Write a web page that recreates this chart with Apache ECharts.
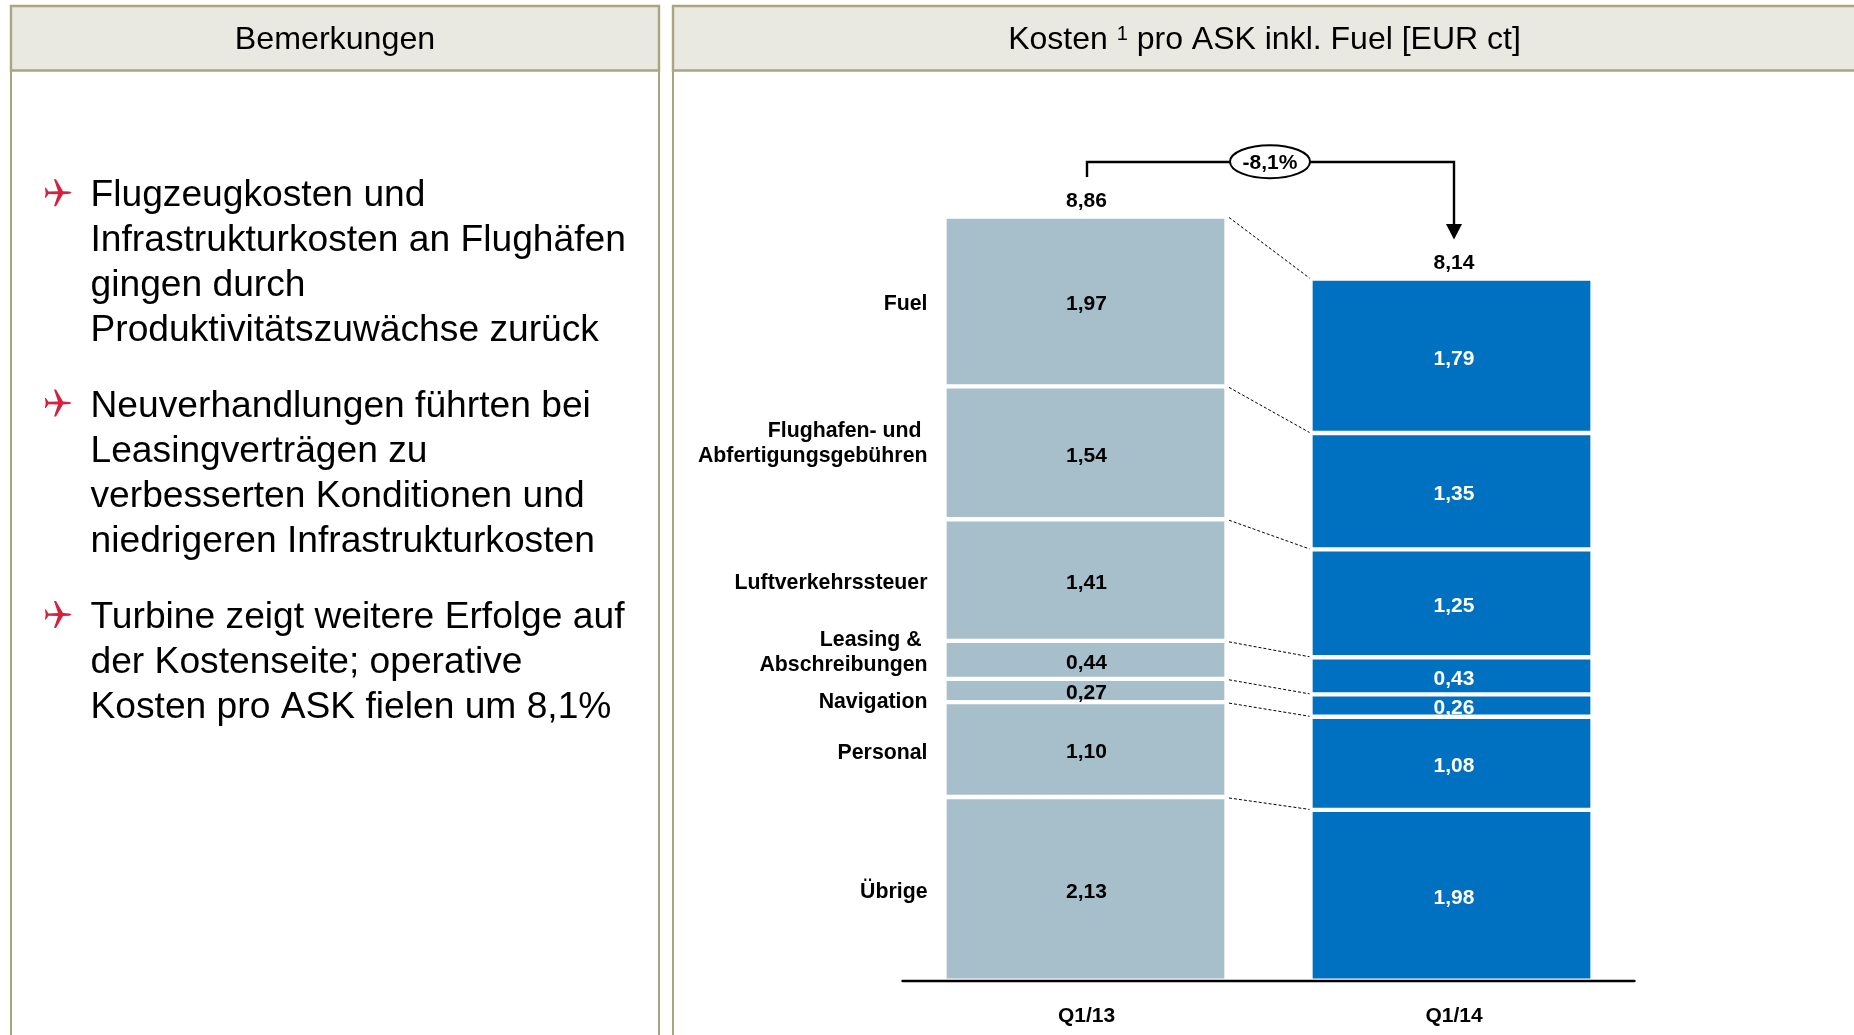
<!DOCTYPE html>
<html><head><meta charset="utf-8">
<style>html,body{margin:0;padding:0;background:#fff}#c{width:1854px;height:1035px}</style>
<script src="https://cdn.jsdelivr.net/npm/echarts@6/dist/echarts.min.js"></script>
</head><body><div id="c"></div>
<script>
const periods = ['Q1/13', 'Q1/14'];
const uebrige = [2.13, 1.98];
const personal = [1.10, 1.08];
const navigation = [0.27, 0.26];
const leasing = [0.44, 0.43];
const luftverkehr = [1.41, 1.25];
const flughafen = [1.54, 1.35];
const fuel = [1.97, 1.79];
const totals = [8.86, 8.14];
const stackOrder = [uebrige, personal, navigation, leasing, luftverkehr, flughafen, fuel];
const segmentNames = ['Fuel', 'Flughafen- und\u00a0\nAbfertigungsgebühren', 'Luftverkehrssteuer', 'Leasing &\u00a0\nAbschreibungen', 'Navigation', 'Personal', 'Übrige'];
const changeLabel = '-8,1%';
const panelTitleLeft = 'Bemerkungen';
const remarks = [
  ['Flugzeugkosten und', 'Infrastrukturkosten an Flughäfen', 'gingen durch', 'Produktivitätszuwächse zurück'],
  ['Neuverhandlungen führten bei', 'Leasingverträgen zu', 'verbesserten Konditionen und', 'niedrigeren Infrastrukturkosten'],
  ['Turbine zeigt weitere Erfolge auf', 'der Kostenseite; operative', 'Kosten pro ASK fielen um 8,1%']
];

// layout (separate from the data)
const nameY = [304, 443.5, 583, 653, 702, 753, 892];
const remarkFirstY = [196.2, 406.5, 618.1];
const linePitch = 45;
const FONT = '"Liberation Sans", Arial, sans-serif';
const BORDER = '#a8a67e', HEAD = '#e9e9e1';
const fmt = v => v.toFixed(2).replace('.', ',');
const barColors = ['#a7bfca', '#0070c0'];
const labelColors = ['#000', '#fff'];
const labelDx = [1, 2.5];

const barSeries = stackOrder.map(vals => ({
  type: 'bar', stack: 'k', barWidth: 282, animation: false, silent: true,
  data: vals.map((v, i) => ({
    value: v,
    itemStyle: { color: barColors[i], borderColor: '#fff', borderWidth: 2.15 },
    label: { show: true, position: 'inside', offset: [labelDx[i], 3], color: labelColors[i],
      fontFamily: FONT, fontSize: 21, fontWeight: 'bold', formatter: () => fmt(v) }
  }))
}));

// cumulative stack tops, used by connectors
const cumTops = [0, 1].map(i => { let s = 0; return stackOrder.map(a => (s += a[i])); });
const connectorData = stackOrder.map((_, k) => [cumTops[0][k], cumTops[1][k]]);

const connectors = {
  type: 'custom', silent: true, animation: false, coordinateSystem: 'cartesian2d', z: 5,
  data: connectorData,
  encode: { x: [], y: [0, 1] },
  renderItem(params, api) {
    const a = api.coord([0, api.value(0)]), b = api.coord([1, api.value(1)]);
    return { type: 'line',
      shape: { x1: a[0] + 143.5, y1: a[1] + 1, x2: b[0] - 142, y2: b[1] - 0.5 },
      style: { stroke: '#000', lineWidth: 1, lineDash: [3, 2], fill: null } };
  }
};

const totalSeries = {
  type: 'scatter', symbol: 'circle', symbolSize: 1, animation: false, silent: true, z: 6,
  itemStyle: { color: 'transparent', opacity: 1 },
  label: { show: true, position: 'top', distance: 4, color: '#000',
    fontFamily: FONT, fontSize: 21, fontWeight: 'bold', formatter: p => fmt(p.value[1]) },
  data: totals.map((v, i) => ({ value: [i, v], label: { offset: [labelDx[i], 0] } }))
};

const g = [];
function panel(x, w) {
  g.push({ type: 'rect', shape: { x, y: 6, width: w, height: 1100 }, style: { fill: '#fff', stroke: BORDER, lineWidth: 2 }, z: 0 });
  g.push({ type: 'rect', shape: { x, y: 6, width: w, height: 64.5 }, style: { fill: HEAD, stroke: BORDER, lineWidth: 2.4 }, z: 1 });
}
panel(11, 648);
panel(673, 1300);
g.push({ type: 'text', z: 2, x: 335, y: 40.5, style: { text: panelTitleLeft, fontFamily: FONT, fontSize: 32.2, fill: '#000', align: 'center', verticalAlign: 'middle' } });
g.push({ type: 'text', z: 2, x: 1264.5, y: 40.5, style: {
  text: '{a|Kosten }{s|1}{a| pro ASK inkl. Fuel [EUR ct]}', align: 'center', verticalAlign: 'middle', fontFamily: FONT,
  rich: { a: { fontFamily: FONT, fontSize: 32, fill: '#000' },
          s: { fontFamily: FONT, fontSize: 20, fill: '#000', verticalAlign: 'top', padding: [0, 0, 12, 0] } } } });

remarks.forEach((lines, p) => {
  const y0 = remarkFirstY[p];
  g.push({ type: 'polygon', z: 3, x: 44.5, y: y0 - 17,
    shape: { points: [[9.5,0],[11.5,0],[18.5,12],[25,12.4],[27.2,13.5],[25,14.6],[18.5,15],[11.5,27],[9.5,27],[13.5,15],[4,14.7],[1.4,18.5],[0.4,18.5],[1.2,13.5],[0.4,8.5],[1.4,8.5],[4,12.3],[13.5,12]] },
    style: { fill: '#d4213d' } });
  lines.forEach((t, i) => g.push({ type: 'text', z: 3, x: 90.5, y: y0 + i * linePitch, style: {
    text: t, fontFamily: FONT, fontSize: 37.2, fill: '#000', align: 'left', verticalAlign: 'middle' } }));
});

segmentNames.forEach((n, i) => g.push({ type: 'text', z: 3, x: 927.5, y: nameY[i], style: {
  text: n, fontFamily: FONT, fontSize: 21.3, fontWeight: 'bold', lineHeight: 25, fill: '#000', align: 'right', verticalAlign: 'middle' } }));

// change bracket
g.push({ type: 'polyline', z: 4, shape: { points: [[1087, 177], [1087, 162], [1454, 162], [1454, 228]] }, style: { stroke: '#000', lineWidth: 2.4, fill: null } });
g.push({ type: 'polygon', z: 4, shape: { points: [[1446, 224], [1462, 224], [1454, 239.5]] }, style: { fill: '#000' } });
g.push({ type: 'ellipse', z: 5, shape: { cx: 1270, cy: 161.7, rx: 40, ry: 16.5 }, style: { fill: '#fff', stroke: '#000', lineWidth: 2 } });
g.push({ type: 'text', z: 6, x: 1270, y: 163, style: { text: changeLabel, fontFamily: FONT, fontSize: 21, fontWeight: 'bold', fill: '#000', align: 'center', verticalAlign: 'middle' } });

const chart = echarts.init(document.getElementById('c'), null, { renderer: 'canvas' });
chart.setOption({
  animation: false, backgroundColor: '#fff',
  graphic: { elements: g },
  grid: { left: 902.5, width: 732, top: 204.4, height: 776.3, containLabel: false, z: 3 },
  xAxis: { type: 'category', data: [{ value: periods[0], textStyle: { padding: [0, 0, 0, 2] } }, { value: periods[1], textStyle: { padding: [0, 0, 0, 5] } }],
    axisLine: { show: true, lineStyle: { color: '#000', width: 2.4 } }, axisTick: { show: false },
    axisLabel: { color: '#000', fontFamily: FONT, fontSize: 21, fontWeight: 'bold', margin: 25 }, z: 10 },
  yAxis: { type: 'value', min: 0, max: 9, interval: 1, show: false, splitLine: { show: false } },
  series: [...barSeries, connectors, totalSeries]
});
</script></body></html>
